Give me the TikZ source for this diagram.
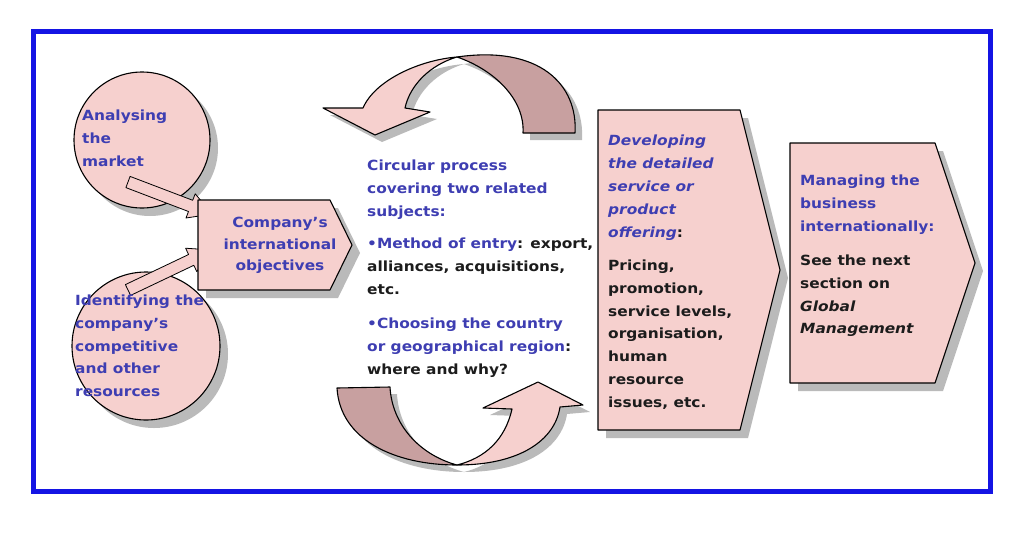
\documentclass[tikz,border=0pt]{standalone}
\usepackage{fontspec}
\setmainfont[FakeStretch=1.1]{DejaVu Sans}
\begin{document}
\begin{tikzpicture}[x=1pt,y=-1pt]
\definecolor{pinkf}{RGB}{246,208,206}
\definecolor{darkf}{RGB}{200,160,160}
\definecolor{bluet}{RGB}{62,62,178}
\definecolor{blackt}{RGB}{28,28,28}
\definecolor{border}{RGB}{20,20,228}
\tikzset{
  shp/.style={fill=pinkf,draw=black,line width=1.1pt,line join=round},
  shpd/.style={fill=darkf,draw=black,line width=1.1pt,line join=round},
  shad/.style={fill=black!45,opacity=0.6,draw=none},
  txt/.style={inner sep=0pt,anchor=north west,align=left,font=\bfseries\fontsize{14}{22.7}\selectfont},
  txtc/.style={inner sep=0pt,anchor=north,align=center,font=\bfseries\fontsize{14}{21.5}\selectfont,text=bluet},
}
\useasboundingbox (0,0) rectangle (1024,533);
\fill[white] (0,0) rectangle (1024,533);
% shadows
\fill[shad] (150,148) circle (68);
\fill[shad] (154,354) circle (74);
\fill[shad] (206,208) -- (338,208) -- (360,253) -- (338,298) -- (206,298) -- cycle;
\fill[shad] (606,118) -- (748,118) -- (788,278) -- (748,438) -- (606,438) -- cycle;
\fill[shad] (798,151) -- (943,151) -- (983,271) -- (943,391) -- (798,391) -- cycle;
\begin{scope}[shift={(7,7)}]
\fill[shad] (457,57) .. controls (540,45) and (578,85) .. (575,133) -- (523,133) .. controls (525,100) and (495,70) .. (457,57) -- cycle;
\fill[shad] (457,57) .. controls (420,60) and (375,80) .. (363,108) -- (323,108) -- (375,135) -- (430,112) -- (405,108) .. controls (410,85) and (430,65) .. (457,57) -- cycle;
\fill[shad] (337,388) -- (390,387) .. controls (392,425) and (420,455) .. (457,465) .. controls (395,465) and (340,440) .. (337,388) -- cycle;
\fill[shad] (457,465) .. controls (520,465) and (555,440) .. (560,407) -- (583,405) -- (538,382) -- (483,408) -- (512,409) .. controls (505,440) and (485,458) .. (457,465) -- cycle;
\end{scope}
% circles
\draw[shp] (142,140) circle (68);
\draw[shp] (146,346) circle (74);
% small block arrows
\draw[shp,line width=0.8pt] (125.9,187.6) -- (188.5,211.5) -- (186,218) -- (212,214) -- (195.2,193.8) -- (192.7,200.3) -- (130.1,176.4) -- cycle;
\draw[shp,line width=0.8pt] (130.6,295.4) -- (193.8,265.3) -- (196.8,271.6) -- (212,250) -- (185.6,248.2) -- (188.6,254.5) -- (125.4,284.6) -- cycle;
% hexagon
\draw[shp] (198,200) -- (330,200) -- (352,245) -- (330,290) -- (198,290) -- cycle;
% chevrons
\draw[shp] (598,110) -- (740,110) -- (780,270) -- (740,430) -- (598,430) -- cycle;
\draw[shp] (790,143) -- (935,143) -- (975,263) -- (935,383) -- (790,383) -- cycle;
% top curved arrow
\draw[shpd] (457,57) .. controls (540,45) and (578,85) .. (575,133) -- (523,133) .. controls (525,100) and (495,70) .. (457,57) -- cycle;
\draw[shp] (457,57) .. controls (420,60) and (375,80) .. (363,108) -- (323,108) -- (375,135) -- (430,112) -- (405,108) .. controls (410,85) and (430,65) .. (457,57) -- cycle;
% bottom curved arrow
\draw[shpd] (337,388) -- (390,387) .. controls (392,425) and (420,455) .. (457,465) .. controls (395,465) and (340,440) .. (337,388) -- cycle;
\draw[shp] (457,465) .. controls (520,465) and (555,440) .. (560,407) -- (583,405) -- (538,382) -- (483,408) -- (512,409) .. controls (505,440) and (485,458) .. (457,465) -- cycle;
% border
\draw[border,line width=5pt] (33,31) rectangle (990,491);
% texts
\node[txt,text=bluet] (t1) at (82,110) {Analysing\\the\\market};
\node[txt,text=bluet] (t2) at (75,295) {Identifying the\\company's\\competitive\\and other\\resources};
\node[txtc] (t3) at (280,217) {Company's\\international\\objectives};
\node[txt,text=bluet] (t4) at (367,160) {Circular process\\covering two related\\subjects:};
\node[txt,text=blackt] (t5) at (367,238) {{\color{bluet}•Method of entry}: export,\\alliances, acquisitions,\\etc.};
\node[txt,text=blackt] (t6) at (367,318) {{\color{bluet}•Choosing the country}\\{\color{bluet}or geographical region}:\\where and why?};
\node[txt,text=bluet,font=\bfseries\itshape\fontsize{14}{22.8}\selectfont] (t7) at (608,135) {Developing\\the detailed\\service or\\product\\offering{\upshape\color{blackt}:}};
\node[txt,text=blackt] (t8) at (608,260) {Pricing,\\promotion,\\service levels,\\organisation,\\human\\resource\\issues, etc.};
\node[txt,text=bluet] (t9) at (800,175) {Managing the\\business\\internationally:};
\node[txt,text=blackt] (t10) at (800,255) {See the next\\section on\\\textit{Global}\\\textit{Management}};
\end{tikzpicture}
\end{document}
